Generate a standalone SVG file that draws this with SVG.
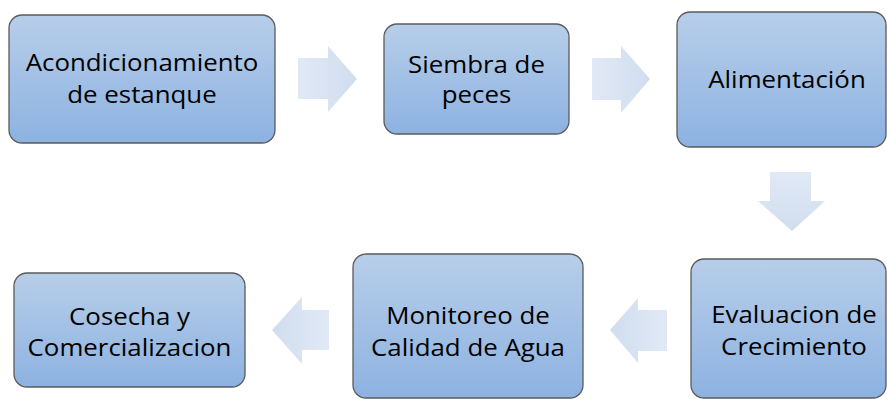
<svg xmlns="http://www.w3.org/2000/svg" width="887" height="399" viewBox="0 0 887 399">
<defs>
<linearGradient id="boxg" x1="0" y1="0" x2="0" y2="1">
<stop offset="0" stop-color="#b7cee9"/>
<stop offset="1" stop-color="#8db2e1"/>
</linearGradient>
<linearGradient id="arrR" x1="0" y1="0" x2="1" y2="0">
<stop offset="0" stop-color="#e1e9f5"/>
<stop offset="1" stop-color="#d0ddef"/>
</linearGradient>
<linearGradient id="arrL" x1="1" y1="0" x2="0" y2="0">
<stop offset="0" stop-color="#e1e9f5"/>
<stop offset="1" stop-color="#d0ddef"/>
</linearGradient>
<linearGradient id="arrD" x1="0" y1="0" x2="0" y2="1">
<stop offset="0" stop-color="#e1e9f5"/>
<stop offset="1" stop-color="#d0ddef"/>
</linearGradient>
</defs>
<style>
.box{fill:url(#boxg);stroke:#5b5b5b;stroke-width:1.3}
.t{font-family:"Open Sans","Noto Sans",sans-serif;font-size:23.5px;fill:#000;text-anchor:middle}
</style>
<g id="connectors">
<polygon points="298,58 328,58 328,46 357,79 328,112 328,99 298,99" fill="url(#arrR)"/>
<polygon points="592,58 621,58 621,46 650,79 621,113 621,100 592,100" fill="url(#arrR)"/>
<polygon points="770,172 811,172 811,201 825,201 792,231 758,201 770,201" fill="url(#arrD)"/>
<polygon points="667,310 638,310 638,298 610,330 638,363 638,351 667,351" fill="url(#arrL)"/>
<polygon points="329,310 302,310 302,297 272,330 302,364 302,350 329,350" fill="url(#arrL)"/>
</g>
<g id="n1">
<rect class="box" x="9" y="15" width="266" height="128" rx="13"/>
<text class="t" transform="translate(142,71) scale(1.1,1)">Acondicionamiento</text>
<text class="t" transform="translate(142,103) scale(1.1,1)">de estanque</text>
</g>
<g id="n2">
<rect class="box" x="384" y="24" width="185" height="110" rx="13"/>
<text class="t" transform="translate(476.5,73) scale(1.1,1)">Siembra de</text>
<text class="t" transform="translate(476.5,103) scale(1.1,1)">peces</text>
</g>
<g id="n3">
<rect class="box" x="677" y="12" width="209" height="135" rx="13"/>
<text class="t" transform="translate(787,88) scale(1.1,1)">Alimentación</text>
</g>
<g id="n4">
<rect class="box" x="691" y="259" width="195" height="139" rx="13"/>
<text class="t" transform="translate(794,323) scale(1.1,1)">Evaluacion de</text>
<text class="t" transform="translate(794,355) scale(1.1,1)">Crecimiento</text>
</g>
<g id="n5">
<rect class="box" x="353" y="254" width="230" height="144" rx="13"/>
<text class="t" transform="translate(468,324) scale(1.1,1)">Monitoreo de</text>
<text class="t" transform="translate(468,356) scale(1.1,1)">Calidad de Agua</text>
</g>
<g id="n6">
<rect class="box" x="14" y="273" width="231" height="114" rx="13"/>
<text class="t" transform="translate(129.5,325) scale(1.1,1)">Cosecha y</text>
<text class="t" transform="translate(129.5,356) scale(1.1,1)">Comercializacion</text>
</g>
</svg>
